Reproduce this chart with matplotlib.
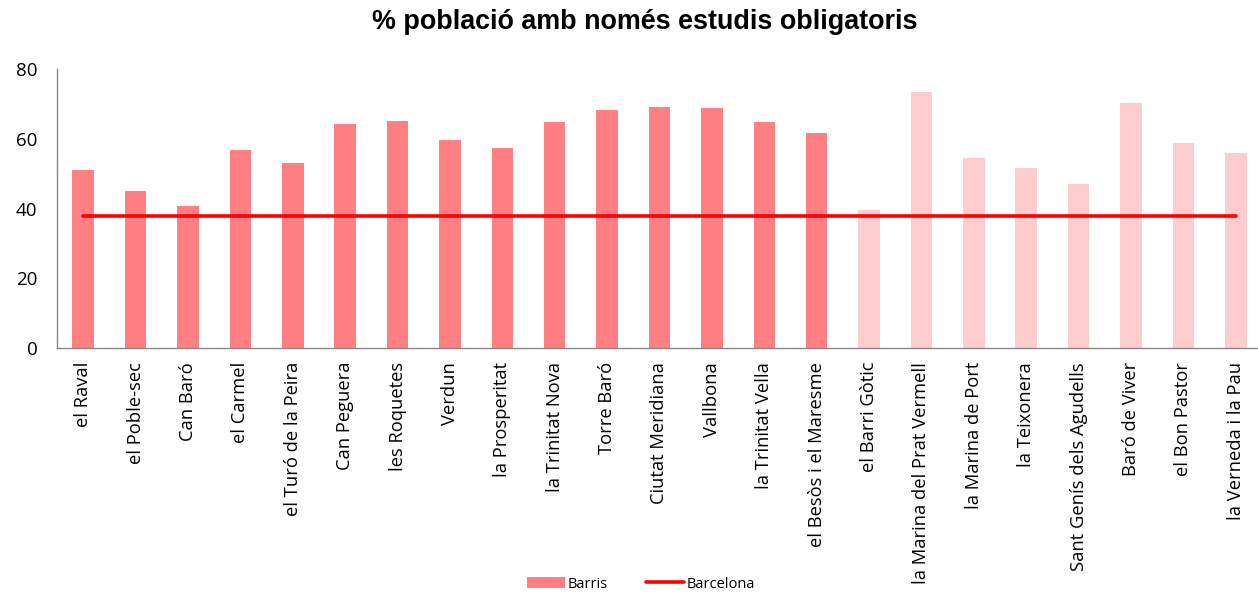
import matplotlib
matplotlib.use("Agg")
import matplotlib.pyplot as plt
from matplotlib.patches import Patch
from matplotlib.lines import Line2D

categories = ["el Raval", "el Poble-sec", "Can Baró", "el Carmel", "el Turó de la Peira",
              "Can Peguera", "les Roquetes", "Verdun", "la Prosperitat", "la Trinitat Nova",
              "Torre Baró", "Ciutat Meridiana", "Vallbona", "la Trinitat Vella",
              "el Besòs i el Maresme", "el Barri Gòtic", "la Marina del Prat Vermell",
              "la Marina de Port", "la Teixonera", "Sant Genís dels Agudells",
              "Baró de Viver", "el Bon Pastor", "la Verneda i la Pau"]
barris = [50.9, 44.9, 40.7, 56.7, 53.1, 64.2, 65.0, 59.6, 57.4, 64.9, 68.2, 69.1, 68.8,
          64.8, 61.7, 39.5, 73.4, 54.4, 51.6, 47.0, 70.2, 58.8, 56.0]
highlight = [True] * 15 + [False] * 8
barcelona = [37.9] * 23
yticks = [0, 20, 40, 60, 80]

plt.rcParams['font.family'] = ['Liberation Sans', 'DejaVu Sans']
fig = plt.figure(figsize=(12.58, 6.03), dpi=100)
ax = fig.add_axes([57/1258, 1 - 348/603, (1262-57)/1258, (348-69)/603])

x = list(range(len(categories)))
colors = ['#FF7F83' if h else '#FECCCC' for h in highlight]
ax.bar(x, barris, width=0.41, color=colors, zorder=2)
ax.plot(x, barcelona, color='#FF0000', linewidth=2.6, solid_capstyle='round', zorder=3)

ax.set_xlim(-0.5, len(categories) - 0.5)
ax.set_ylim(0, 80)
ax.set_yticks(yticks)
ax.set_xticks(x)
ax.set_xticklabels(categories, rotation=90, fontsize=13.2, fontfamily=['Open Sans', 'DejaVu Sans'])
ax.tick_params(axis='y', length=0, pad=14, labelsize=13.5)
ax.tick_params(axis='x', length=0, pad=10)
for lbl in ax.get_yticklabels():
    lbl.set_fontfamily(['Open Sans', 'DejaVu Sans'])
for s in ['top', 'right']:
    ax.spines[s].set_visible(False)
for s in ['left', 'bottom']:
    ax.spines[s].set_color('#888888')
    ax.spines[s].set_linewidth(1.0)

fig.text(645/1258, 1 - 22/603, "% població amb només estudis obligatoris",
         ha='center', va='center', fontsize=19.4, fontweight='bold')

handles = [Patch(facecolor='#FF7F83', edgecolor='none'),
           Line2D([0], [0], color='#FF0000', linewidth=2.6, solid_capstyle='round')]
fig.legend(handles, ['Barris', 'Barcelona'], loc='center', bbox_to_anchor=(641/1258, 1 - 584/603),
           ncol=2, frameon=False, prop={'family': ['Open Sans', 'DejaVu Sans'], 'size': 10.5},
           handlelength=2.6, handleheight=0.8, handletextpad=0.2, columnspacing=2.6)

fig.savefig("out.png", dpi=100, facecolor='white')
